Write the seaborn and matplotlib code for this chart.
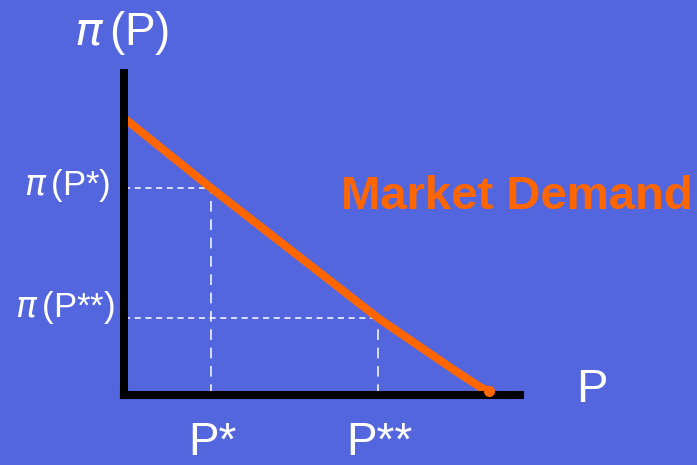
import matplotlib
matplotlib.use("Agg")
import matplotlib.pyplot as plt
import seaborn as sns
import pandas as pd

# Data (arbitrary units: P horizontal, pi vertical)
demand_p = [0, 87, 254, 330, 356, 365]
demand_pi = [277, 207, 77, 25, 8, 4]
p_star_labels = ["P*", "P**"]
p_star_values = [87, 254]
pi_star_labels = [r"$\pi\,$(P*)", r"$\pi\,$(P**)"]
pi_star_values = [207, 77]

BG = "#5366DE"
ORANGE = "#FF6600"

sns.set_style("white", {"axes.facecolor": BG, "figure.facecolor": BG})
plt.rcParams["font.family"] = ["Liberation Sans", "DejaVu Sans"]
plt.rcParams["mathtext.fontset"] = "dejavusans"

fig = plt.figure(figsize=(6.97, 4.65), dpi=100)
fig.patch.set_facecolor(BG)
ax = fig.add_axes([124 / 697, 70 / 465, 396 / 697, 322 / 465])
ax.set_facecolor(BG)

df = pd.DataFrame({"P": demand_p, "pi": demand_pi})
sns.lineplot(data=df, x="P", y="pi", ax=ax, color=ORANGE, linewidth=5.8,
             solid_capstyle="round", sort=False, estimator=None)
ax.plot([demand_p[-1]], [demand_pi[-1]], "o", color=ORANGE, markersize=7, clip_on=False, zorder=5)

ax.set_xlim(0, 396)
ax.set_ylim(0, 322)

# dashed guides
for p, pi in zip(p_star_values, pi_star_values):
    ax.plot([0, p], [pi, pi], color="white", lw=1.1, ls=(0, (4, 3)), zorder=1)
    ax.plot([p, p], [0, pi], color="white", lw=1.1, ls=(0, (7, 5)), zorder=1)

for s in ["top", "right"]:
    ax.spines[s].set_visible(False)
for s in ["left", "bottom"]:
    ax.spines[s].set_color("black")
    ax.spines[s].set_linewidth(5.8)
    ax.spines[s].set_zorder(4)
ax.set_xticks([])
ax.set_yticks([])
ax.set_xlabel("")
ax.set_ylabel("")

# labels
ax.text(-2, 362, r"$\pi\,$(P)", color="white", fontsize=33, ha="center", va="center", clip_on=False)
ax.text(-14, 210, pi_star_labels[0], color="white", fontsize=25, ha="right", va="center", clip_on=False)
ax.text(-9, 88, pi_star_labels[1], color="white", fontsize=25, ha="right", va="center", clip_on=False)
for p, lab in zip(p_star_values, p_star_labels):
    ax.text(p + 1, -48, lab, color="white", fontsize=33, ha="center", va="center", clip_on=False)
ax.text(468, 5, "P", color="white", fontsize=34, ha="center", va="center", clip_on=False)
ax.text(393, 198, "Market Demand", color=ORANGE, fontsize=34, fontweight="bold",
        ha="center", va="center", clip_on=False)

fig.savefig("out.png", dpi=100, facecolor=BG)
